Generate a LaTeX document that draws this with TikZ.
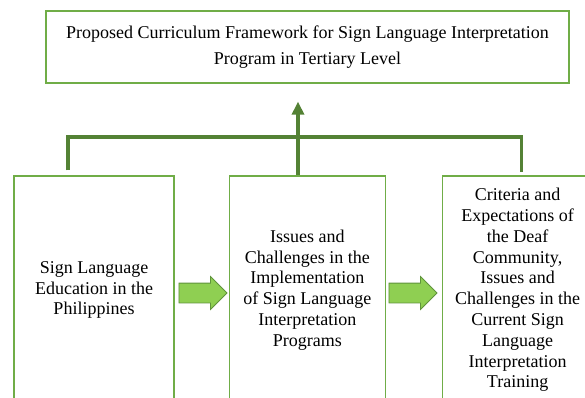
\documentclass[tikz,border=0pt]{standalone}
\usepackage{fontspec}
\setmainfont{Liberation Serif}
\usepackage{tikz}
\usetikzlibrary{shapes.arrows, positioning}
\usetikzlibrary{arrows.meta}
\definecolor{boxgreen}{HTML}{70AD47}
\definecolor{linegreen}{HTML}{548235}
\definecolor{fillgreen}{HTML}{8FCF52}
\tikzset{>={Triangle[width=12pt,length=13pt]}}

\begin{document}
\begin{tikzpicture}[x=1pt, y=-1pt, box/.style={rectangle, draw=boxgreen, line width=1.3pt, fill=white, align=center, inner sep=2pt, font=\fontsize{18}{20.8}\selectfont}, topbox/.style={box, minimum width=523pt, minimum height=72pt, font=\fontsize{18}{26}\selectfont}, bottombox/.style={box, minimum height=228pt}, blockarrow/.style={single arrow, draw=boxgreen!85!black, fill=fillgreen, line width=0.8pt, minimum height=48pt, inner xsep=0pt, inner ysep=9.5pt, single arrow head extend=6.5pt}, feed/.style={draw=linegreen, line width=3.5pt}]

    \useasboundingbox (0,0) rectangle (585,398);
    \clip (0,0) rectangle (585,398);

    %Nodes
    \node[topbox](framework) at (307.5,47){Proposed Curriculum Framework for Sign Language Interpretation\\Program in Tertiary Level};

    \node[bottombox, minimum width=160pt](education) at (94,290){Sign Language\\Education in the\\Philippines};
    \node[bottombox, minimum width=156pt](issues)[right=54pt of education]{Issues and\\Challenges in the\\Implementation\\of Sign Language\\Interpretation\\Programs};
    \node[bottombox, minimum width=150pt](criteria)[right=56pt of issues]{Criteria and\\Expectations of\\the Deaf\\Community,\\Issues and\\Challenges in the\\Current Sign\\Language\\Interpretation\\Training};

    \node[blockarrow](step_one) at (198,293){};
    \node[blockarrow](step_two) at (408,293){};

    %Lines
    \coordinate (bus) at (298,137);
    \draw[feed] ([xshift=-26pt,yshift=5pt]education.north) |- (bus) -| ([xshift=4pt,yshift=3pt]criteria.north);
    \draw[feed,->] (issues.north -| bus) -- ([yshift=-18pt]framework.south -| bus);

\end{tikzpicture}
\end{document}
